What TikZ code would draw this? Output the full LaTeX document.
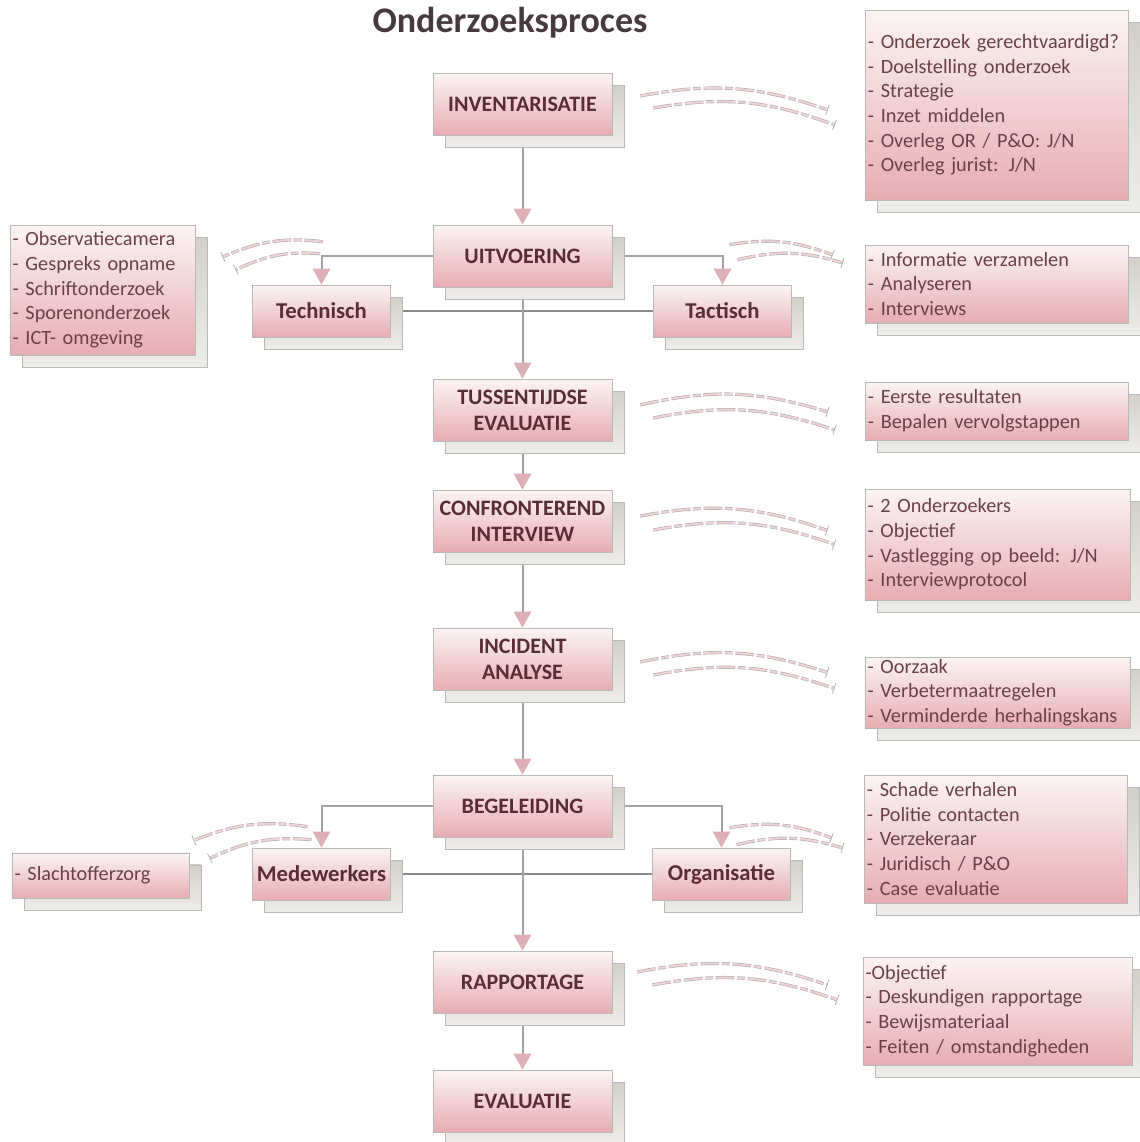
\documentclass[tikz,border=0pt]{standalone}
\usepackage{fontspec}
\setmainfont{Carlito}
\usetikzlibrary{arrows.meta,shadows,backgrounds}

\definecolor{roze}{HTML}{E6ADB2}
\definecolor{lichtroze}{HTML}{FCF4F4}
\definecolor{schaduw}{HTML}{D2D0C8}
\definecolor{lijngrijs}{HTML}{A3A3A3}
\definecolor{tekstrood}{HTML}{5A2C34}
\definecolor{pijlroze}{HTML}{DDB0B5}
\definecolor{titelgrijs}{HTML}{463A3E}

\tikzset{
  kaart/.style={draw=gray!55, line width=0.5pt, top color=lichtroze, bottom color=roze, text=tekstrood,
    general shadow={shadow xshift=9pt, shadow yshift=-9pt, top color=schaduw, bottom color=schaduw!40!white, draw=gray!55, line width=0.5pt}},
  stap/.style={kaart, font=\fontsize{16.5}{19.5}\selectfont\bfseries, align=center, minimum width=134pt, minimum height=46.5pt, inner sep=0pt},
  tak/.style={kaart, font=\fontsize{17}{19}\selectfont\bfseries, minimum width=103.5pt, minimum height=39pt, inner sep=0pt},
  lijst/.style={kaart, font=\fontsize{15.2}{18.5}\selectfont, align=left, inner xsep=2pt, inner ysep=0pt, text=tekstrood!90!white},
  pijl/.style={draw=lijngrijs, line width=1.5pt, -{Triangle[width=13pt,length=12pt,color=pijlroze]}},
  lijn/.style={draw=lijngrijs!85!black, line width=2.2pt},
  golf/.style={draw=gray!60, line width=0.5pt, double=roze!55, double distance=1.4pt, dash pattern=on 14pt off 2pt on 6pt off 2pt, -{Bar[width=8pt,line width=0.6pt,sep=0pt]}},
}

\begin{document}
\begin{tikzpicture}[x=0.75pt, y=-0.75pt]
\useasboundingbox (0,0) rectangle (1139,1142);

% Title
\node[font=\fontsize{27}{32}\selectfont\bfseries, text=titelgrijs] (titel) at (510,23) {Onderzoeksproces};

% Main steps
\node[stap] (inv) at (522.5,104) {INVENTARISATIE};
\node[stap] (uit) at (522.5,256) {UITVOERING};
\node[tak] (tech) at (321.5,311) {Technisch};
\node[tak] (tac) at (722.5,311) {Tactisch};
\node[stap] (tus) at (522.5,410) {TUSSENTIJDSE\\EVALUATIE};
\node[stap] (con) at (522.5,521) {CONFRONTEREND\\INTERVIEW};
\node[stap] (inc) at (522.5,659) {INCIDENT\\ANALYSE};
\node[stap] (beg) at (522.5,806) {BEGELEIDING};
\node[tak] (med) at (321.5,874) {Medewerkers};
\node[tak] (org) at (721.5,874) {Organisatie};
\node[stap] (rap) at (522.5,982) {RAPPORTAGE};
\node[stap] (eva) at (522.5,1101) {EVALUATIE};

% Lists
\node[lijst, text width=193pt, minimum height=142.5pt] (linv) at (996.5,105)
  {- Onderzoek gerechtvaardigd?\\- Doelstelling onderzoek\\- Strategie\\- Inzet middelen\\- Overleg OR / P\&O: J/N\\- Overleg jurist: J/N};
\node[lijst, text width=135pt, minimum height=97.5pt] (ltech) at (102.5,290)
  {- Observatiecamera\\- Gespreks opname\\- Schriftonderzoek\\- Sporenonderzoek\\- ICT- omgeving};
\node[lijst, text width=193pt, minimum height=58.5pt] (ltac) at (996.5,284)
  {- Informatie verzamelen\\- Analyseren\\- Interviews};
\node[lijst, text width=193pt, minimum height=43.5pt] (ltus) at (996.5,411)
  {- Eerste resultaten\\- Bepalen vervolgstappen};
\node[lijst, text width=195pt, minimum height=83pt] (lcon) at (997.5,544.5)
  {- 2 Onderzoekers\\- Objectief\\- Vastlegging op beeld: J/N\\- Interviewprotocol};
\node[lijst, text width=195pt, minimum height=53pt] (linc) at (997.5,692.5)
  {- Oorzaak\\- Verbetermaatregelen\\- Verminderde herhalingskans};
\node[lijst, text width=129pt, minimum height=34pt] (lmed) at (100.5,875.5)
  {- Slachtofferzorg};
\node[lijst, text width=193pt, minimum height=96pt] (lorg) at (995.5,839)
  {- Schade verhalen\\- Politie contacten\\- Verzekeraar\\- Juridisch / P\&O\\- Case evaluatie};
\node[lijst, text width=198pt, minimum height=81pt] (lrap) at (997.5,1011)
  {-Objectief\\- Deskundigen rapportage\\- Bewijsmateriaal\\- Feiten / omstandigheden};

% Connectors
\begin{scope}[on background layer]
\draw[pijl] (inv) -- (uit);
\draw[pijl] (uit.west) -| (tech.north);
\draw[pijl] (uit.east) -| (tac.north);
\draw[lijn] (tech) -- (tac);
\draw[pijl] (uit) -- (tus);
\draw[pijl] (tus) -- (con);
\draw[pijl] (con) -- (inc);
\draw[pijl] (inc) -- (beg);
\draw[pijl] (beg.west) -| (med.north);
\draw[pijl] (beg.east) -| (org.north);
\draw[lijn] (med) -- (org);
\draw[pijl] (beg) -- (rap);
\draw[pijl] (rap) -- (eva);
\end{scope}

% Curved links to the lists
\draw[golf] ([shift={(28,-8)}]inv.east) to[bend left=15] ([shift={(-37,5)}]linv.west);
\draw[golf] ([shift={(41,4)}]inv.east) to[bend left=15] ([shift={(-30,20)}]linv.west);
\draw[golf] ([shift={(1.5,-43)}]tech.north) to[bend right=15] ([shift={(27,-33)}]ltech.east);
\draw[golf] ([shift={(-1.5,-31)}]tech.north) to[bend right=15] ([shift={(40,-20)}]ltech.east);
\draw[golf] ([shift={(7,-40)}]tac.north) to[bend left=15] ([shift={(-32,-29)}]ltac.west);
\draw[golf] ([shift={(15,-25)}]tac.north) to[bend left=15] ([shift={(-22,-21)}]ltac.west);
\draw[golf] ([shift={(28,-5)}]tus.east) to[bend left=15] ([shift={(-37,1)}]ltus.west);
\draw[golf] ([shift={(41,8)}]tus.east) to[bend left=15] ([shift={(-30,19)}]ltus.west);
\draw[golf] ([shift={(28,-5)}]con.east) to[bend left=15] ([shift={(-37,-14)}]lcon.west);
\draw[golf] ([shift={(41,9)}]con.east) to[bend left=15] ([shift={(-30,0)}]lcon.west);
\draw[golf] ([shift={(28,3)}]inc.east) to[bend left=15] ([shift={(-37,-20)}]linc.west);
\draw[golf] ([shift={(41,16)}]inc.east) to[bend left=15] ([shift={(-30,-4)}]linc.west);
\draw[golf] ([shift={(-14,-21)}]med.north) to[bend right=15] ([shift={(4,-35)}]lmed.east);
\draw[golf] ([shift={(-10,-8)}]med.north) to[bend right=15] ([shift={(20,-17)}]lmed.east);
\draw[golf] ([shift={(8,-20)}]org.north) to[bend left=15] ([shift={(-32,-1)}]lorg.west);
\draw[golf] ([shift={(15,-3)}]org.north) to[bend left=15] ([shift={(-21,9)}]lorg.west);
\draw[golf] ([shift={(25,-10)}]rap.east) to[bend left=15] ([shift={(-35,-26)}]lrap.west);
\draw[golf] ([shift={(40,3)}]rap.east) to[bend left=15] ([shift={(-25,-11)}]lrap.west);
\end{tikzpicture}
\end{document}
